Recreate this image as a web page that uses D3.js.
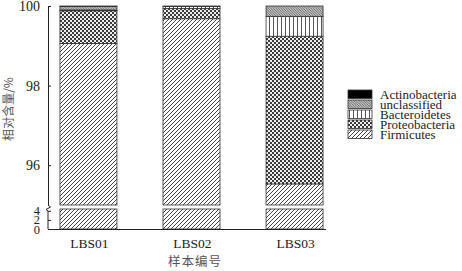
<!DOCTYPE html>
<html>
<head>
<meta charset="utf-8">
<script src="https://cdn.jsdelivr.net/npm/d3@7"></script>
<style>
  body { margin: 0; background: #fff; }
  svg { display: block; }
  svg text.serif, svg .serif text { font-family: "Liberation Serif", "DejaVu Serif", serif !important; }
</style>
</head>
<body>
<div id="chart"></div>
<script>
// samples and phyla (stack order bottom -> top)
const samples = ["LBS01", "LBS02", "LBS03"];
const phyla = ["Firmicutes", "Proteobacteria", "Bacteroidetes", "unclassified", "Actinobacteria"];
const firmicutes = [99.06, 99.68, 95.53];
const proteobacteria = [0.82, 0.26, 3.71];
const bacteroidetes = [0.02, 0.05, 0.50];
const unclassified = [0.09, 0.01, 0.26];
const actinobacteria = [0.01, 0.00, 0.00];
const topTicks = [96, 98, 100];
const bottomTicks = [0, 2, 4];

const series = [firmicutes, proteobacteria, bacteroidetes, unclassified, actinobacteria];
const rows = samples.map(function (s, i) {
    let r = {sample: s};
    phyla.forEach(function (p, j) { r[p] = series[j][i]; });
    return r;
});

const width = 462, height = 271;
const svg = d3.select("#chart").append("svg")
    .attr("width", width)
    .attr("height", height);

// patterns
const defs = svg.append("defs");
function linePattern(id, size, d, stroke) {
    let p = defs.append("pattern").attr("id", id)
        .attr("patternUnits", "userSpaceOnUse")
        .attr("width", size).attr("height", size);
    p.append("rect").attr("width", size).attr("height", size).attr("fill", "#fff");
    p.append("path").attr("d", d).attr("stroke", stroke).attr("stroke-width", 0.9).attr("fill", "none");
}
linePattern("p-firm", 4, "M-1,1 l2,-2 M0,4 l4,-4 M3,5 l2,-2", "#333");
linePattern("p-uncl", 2.5, "M-1,-1 l4.5,4.5 M-1,1.5 l2,2 M1.5,-1 l2,2", "#444");
linePattern("p-bact", 4, "M1.5,0 v4", "#444");

let pc = defs.append("pattern").attr("id", "p-prot")
    .attr("patternUnits", "userSpaceOnUse")
    .attr("width", 4).attr("height", 4);
pc.append("rect").attr("width", 4).attr("height", 4).attr("fill", "#eee");
pc.append("rect").attr("width", 2).attr("height", 2).attr("fill", "#3a3a3a");
pc.append("rect").attr("x", 2).attr("y", 2).attr("width", 2).attr("height", 2).attr("fill", "#3a3a3a");

const fills = {
    "Firmicutes": "url(#p-firm)",
    "Proteobacteria": "url(#p-prot)",
    "Bacteroidetes": "url(#p-bact)",
    "unclassified": "url(#p-uncl)",
    "Actinobacteria": "#000"
};

// scales: broken y axis
const x = d3.scaleBand()
    .domain(samples)
    .range([48, 335])
    .paddingInner(0.447)
    .paddingOuter(0.116);

const yTop = d3.scaleLinear().domain([95, 100]).range([205, 6]);
const yBot = d3.scaleLinear().domain([0, 4.4]).range([229, 209]);

const stack = d3.stack().keys(phyla);
const layers = stack(rows);

// split each stacked piece into the two visible parts
function parts(d) {
    let out = [];
    let a = d[0], b = d[1];
    if (Math.min(b, 100) > Math.max(a, 95)) {
        out.push({y0: yTop(Math.max(a, 95)), y1: yTop(Math.min(b, 100))});
    }
    if (Math.min(b, 4.4) > Math.max(a, 0)) {
        out.push({y0: yBot(Math.max(a, 0)), y1: yBot(Math.min(b, 4.4))});
    }
    return out;
}

const layerG = svg.selectAll(".layer")
    .data(layers)
    .enter().append("g")
    .attr("class", "layer")
    .attr("fill", function (d) { return fills[d.key]; });

layerG.each(function (layer) {
    let g = d3.select(this);
    layer.forEach(function (d) {
        parts(d).forEach(function (p) {
            g.append("rect")
                .attr("x", x(d.data.sample))
                .attr("width", x.bandwidth())
                .attr("y", p.y1)
                .attr("height", Math.max(p.y0 - p.y1, 0.6))
                .attr("stroke", "#333")
                .attr("stroke-width", 0.8);
        });
    });
});

// axes
const axTop = svg.append("g")
    .attr("transform", "translate(48,0)")
    .call(d3.axisLeft(yTop).tickValues(topTicks).tickFormat(d3.format("d"))
        .tickSizeInner(-3).tickSizeOuter(0).tickPadding(8));
const axBot = svg.append("g")
    .attr("transform", "translate(48,0)")
    .call(d3.axisLeft(yBot).tickValues(bottomTicks).tickFormat(d3.format("d"))
        .tickSizeInner(-3).tickSizeOuter(0).tickPadding(8));
axBot.select(".domain").attr("d", "M0,211V229");
[axTop, axBot].forEach(function (a) {
    a.attr("class", "serif").attr("font-size", 14);
    a.selectAll(".domain").attr("stroke", "#222");
    a.selectAll(".tick line").attr("stroke", "#222");
    a.selectAll(".tick text").attr("fill", "#222");
});
axBot.attr("font-size", 12.5);

// axis break mark
svg.append("path")
    .attr("d", "M48,205 L50.5,207 L46,209.5 L48,211")
    .attr("fill", "none")
    .attr("stroke", "#222")
    .attr("stroke-width", 1);

// x axis baseline
svg.append("line")
    .attr("x1", 48).attr("x2", x("LBS03") + x.bandwidth() + 3)
    .attr("y1", 229.5).attr("y2", 229.5)
    .attr("stroke", "#222");

svg.selectAll(".xlab")
    .data(samples)
    .enter().append("text")
    .attr("class", "xlab serif")
    .attr("x", function (d) { return x(d) + x.bandwidth() / 2 + 1; })
    .attr("y", 248)
    .attr("text-anchor", "middle")
    .attr("font-size", 13.5)
    .attr("fill", "#222")
    .text(function (d) { return d; });

svg.append("text")
    .attr("x", 195)
    .attr("y", 266)
    .attr("text-anchor", "middle")
    .attr("font-family", "'Noto Sans CJK SC', sans-serif")
    .attr("font-size", 12.5)
    .attr("fill", "#555")
    .attr("letter-spacing", 1)
    .text("样本编号");

svg.append("text")
    .attr("transform", "translate(13,109) rotate(-90)")
    .attr("text-anchor", "middle")
    .attr("font-family", "'Noto Sans CJK SC', sans-serif")
    .attr("font-size", 12)
    .attr("fill", "#555")
    .text("相对含量/%");

// legend (top entry = top of stack)
const legendKeys = phyla.slice().reverse();
const legend = svg.selectAll(".legend")
    .data(legendKeys)
    .enter().append("g")
    .attr("class", "legend")
    .attr("transform", function (d, i) { return "translate(348," + (90 + i * 10) + ")"; });

legend.append("rect")
    .attr("width", 24)
    .attr("height", 8.5)
    .attr("fill", function (d) { return fills[d]; })
    .attr("stroke", "#333")
    .attr("stroke-width", 0.8);

legend.append("text")
    .attr("class", "serif")
    .attr("x", 32)
    .attr("y", 8.7)
    .attr("font-size", 13)
    .attr("fill", "#222")
    .text(function (d) { return d; });
</script>
</body>
</html>
